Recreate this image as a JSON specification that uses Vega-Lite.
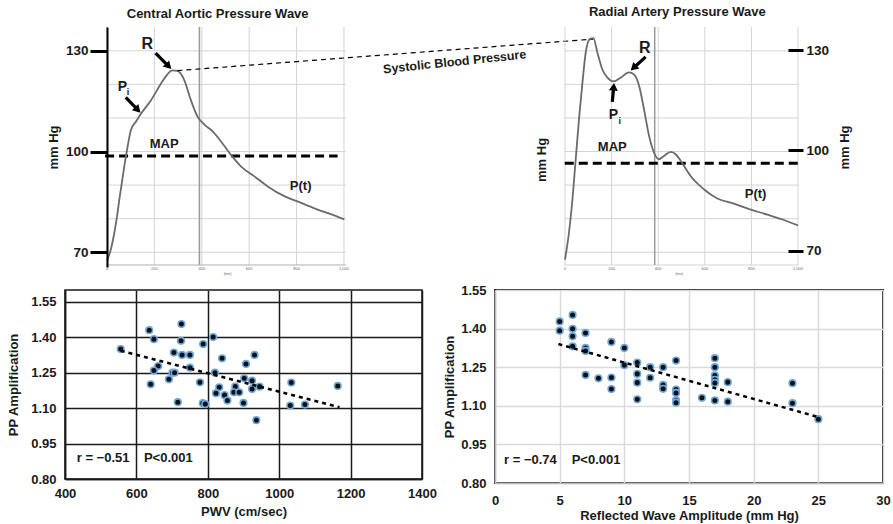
{
  "$schema": "https://vega.github.io/schema/vega-lite/v6.json",
  "padding": {"left": 6, "top": 5, "right": 5, "bottom": 4},
  "config": {
    "font": "Liberation Sans",
    "mark": {"color": "#1a1a1a"},
    "axis": {"labelFont": "Liberation Sans", "titleFont": "Liberation Sans", "labelFontWeight": "bold", "titleFontWeight": "bold", "labelFontSize": 13, "titleFontSize": 13, "labelColor": "#1a1a1a", "titleColor": "#1a1a1a", "tickSize": 0, "labelOverlap": false, "tickCount": 20},
    "text": {"font": "Liberation Sans", "fontWeight": "bold", "color": "#1a1a1a", "align": "center", "baseline": "middle"}
  },
  "datasets": {
    "aortic": [
      {"t": 0, "p": 67.5}, {"t": 15, "p": 70.5}, {"t": 31, "p": 75.8}, {"t": 42, "p": 80.5}, {"t": 52, "p": 85.7}, {"t": 63, "p": 90.8}, {"t": 73, "p": 95.6}, {"t": 87, "p": 101.5}, {"t": 101, "p": 106.4}, {"t": 122, "p": 108.9}, {"t": 150, "p": 111.9}, {"t": 186, "p": 115.3}, {"t": 228, "p": 120.3}, {"t": 255, "p": 123.0}, {"t": 275, "p": 124.2}, {"t": 298, "p": 124.0}, {"t": 326, "p": 121.3}, {"t": 354, "p": 115.3}, {"t": 382, "p": 110.4}, {"t": 411, "p": 108.0}, {"t": 446, "p": 106.0}, {"t": 481, "p": 103.0}, {"t": 523, "p": 99.0}, {"t": 565, "p": 95.6}, {"t": 622, "p": 92.6}, {"t": 678, "p": 89.6}, {"t": 748, "p": 86.7}, {"t": 819, "p": 84.7}, {"t": 889, "p": 82.7}, {"t": 959, "p": 81.0}, {"t": 1001, "p": 79.8}
    ],
    "radial": [
      {"t": 0, "p": 67.8}, {"t": 17, "p": 75.8}, {"t": 32, "p": 85.7}, {"t": 46, "p": 97.7}, {"t": 60, "p": 109.6}, {"t": 75, "p": 120.6}, {"t": 89, "p": 129.5}, {"t": 106, "p": 133.5}, {"t": 122, "p": 133.8}, {"t": 139, "p": 129.5}, {"t": 160, "p": 124.5}, {"t": 182, "p": 122.0}, {"t": 208, "p": 120.9}, {"t": 239, "p": 122.0}, {"t": 275, "p": 123.6}, {"t": 296, "p": 123.0}, {"t": 318, "p": 119.6}, {"t": 339, "p": 112.6}, {"t": 361, "p": 104.6}, {"t": 382, "p": 99.7}, {"t": 403, "p": 97.7}, {"t": 425, "p": 98.7}, {"t": 454, "p": 99.9}, {"t": 475, "p": 99.2}, {"t": 497, "p": 97.2}, {"t": 539, "p": 92.7}, {"t": 597, "p": 88.7}, {"t": 654, "p": 86.0}, {"t": 725, "p": 84.5}, {"t": 797, "p": 82.7}, {"t": 869, "p": 81.2}, {"t": 940, "p": 79.6}, {"t": 1000, "p": 78.0}
    ],
    "pwv": [
      {"pwv": 556, "ppa": 1.350}, {"pwv": 636, "ppa": 1.430}, {"pwv": 649, "ppa": 1.392}, {"pwv": 726, "ppa": 1.456}, {"pwv": 725, "ppa": 1.385}, {"pwv": 787, "ppa": 1.371}, {"pwv": 815, "ppa": 1.401}, {"pwv": 705, "ppa": 1.335}, {"pwv": 728, "ppa": 1.325}, {"pwv": 750, "ppa": 1.325}, {"pwv": 840, "ppa": 1.311}, {"pwv": 907, "ppa": 1.287}, {"pwv": 931, "ppa": 1.325}, {"pwv": 661, "ppa": 1.278}, {"pwv": 649, "ppa": 1.259}, {"pwv": 701, "ppa": 1.250}, {"pwv": 707, "ppa": 1.250}, {"pwv": 750, "ppa": 1.271}, {"pwv": 820, "ppa": 1.250}, {"pwv": 691, "ppa": 1.222}, {"pwv": 640, "ppa": 1.201}, {"pwv": 778, "ppa": 1.209}, {"pwv": 832, "ppa": 1.188}, {"pwv": 877, "ppa": 1.191}, {"pwv": 902, "ppa": 1.226}, {"pwv": 924, "ppa": 1.216}, {"pwv": 924, "ppa": 1.181}, {"pwv": 945, "ppa": 1.191}, {"pwv": 823, "ppa": 1.163}, {"pwv": 847, "ppa": 1.155}, {"pwv": 873, "ppa": 1.167}, {"pwv": 888, "ppa": 1.167}, {"pwv": 855, "ppa": 1.132}, {"pwv": 716, "ppa": 1.125}, {"pwv": 786, "ppa": 1.121}, {"pwv": 793, "ppa": 1.117}, {"pwv": 900, "ppa": 1.122}, {"pwv": 1034, "ppa": 1.208}, {"pwv": 1031, "ppa": 1.111}, {"pwv": 1072, "ppa": 1.115}, {"pwv": 1164, "ppa": 1.194}, {"pwv": 936, "ppa": 1.049}
    ],
    "rwa": [
      {"rwa": 5, "ppa": 1.428}, {"rwa": 5, "ppa": 1.392}, {"rwa": 6, "ppa": 1.453}, {"rwa": 6, "ppa": 1.399}, {"rwa": 6, "ppa": 1.370}, {"rwa": 6, "ppa": 1.331}, {"rwa": 7, "ppa": 1.383}, {"rwa": 7, "ppa": 1.325}, {"rwa": 7, "ppa": 1.313}, {"rwa": 7, "ppa": 1.220}, {"rwa": 8, "ppa": 1.207}, {"rwa": 9, "ppa": 1.348}, {"rwa": 9, "ppa": 1.210}, {"rwa": 9, "ppa": 1.165}, {"rwa": 10, "ppa": 1.325}, {"rwa": 10, "ppa": 1.258}, {"rwa": 11, "ppa": 1.268}, {"rwa": 11, "ppa": 1.224}, {"rwa": 11, "ppa": 1.190}, {"rwa": 11, "ppa": 1.125}, {"rwa": 12, "ppa": 1.250}, {"rwa": 12, "ppa": 1.209}, {"rwa": 13, "ppa": 1.250}, {"rwa": 13, "ppa": 1.181}, {"rwa": 13, "ppa": 1.166}, {"rwa": 14, "ppa": 1.276}, {"rwa": 14, "ppa": 1.163}, {"rwa": 14, "ppa": 1.150}, {"rwa": 14, "ppa": 1.121}, {"rwa": 14, "ppa": 1.112}, {"rwa": 16, "ppa": 1.131}, {"rwa": 17, "ppa": 1.285}, {"rwa": 17, "ppa": 1.250}, {"rwa": 17, "ppa": 1.218}, {"rwa": 17, "ppa": 1.201}, {"rwa": 17, "ppa": 1.189}, {"rwa": 17, "ppa": 1.121}, {"rwa": 18, "ppa": 1.192}, {"rwa": 18, "ppa": 1.116}, {"rwa": 23, "ppa": 1.188}, {"rwa": 23, "ppa": 1.110}, {"rwa": 25, "ppa": 1.048}
    ]
  },
  "vconcat": [
    {
      "width": 723,
      "height": 240,
      "view": {"stroke": null},
      "resolve": {"scale": {"x": "independent", "y": "independent"}, "axis": {"x": "independent", "y": "independent"}},
      "layer": [
        {
          "data": {"values": [{"p": 70}, {"p": 80}, {"p": 90}, {"p": 100}, {"p": 110}, {"p": 120}, {"p": 130}]},
          "mark": {"type": "rule", "color": "#d4d4d4", "strokeWidth": 1},
          "encoding": {
            "y": {"field": "p", "type": "quantitative", "scale": {"domain": [65.6, 137.1], "nice": false, "zero": false},
              "axis": {"orient": "left", "offset": -42, "zindex": 1, "values": [70, 100, 130], "tickSize": 17, "tickWidth": 3, "tickColor": "black", "domainColor": "black", "domainWidth": 2, "labelPadding": 2, "labelFontSize": 13.5, "title": "mm Hg", "titlePadding": 5, "grid": false}},
            "x": {"datum": -5, "type": "quantitative", "scale": {"domain": [-177.2, 2873.4], "nice": false, "zero": false}, "axis": null},
            "x2": {"datum": 1008}
          }
        },
        {
          "data": {"values": [{"t": 0}, {"t": 200}, {"t": 400}, {"t": 600}, {"t": 800}, {"t": 1000}]},
          "mark": {"type": "rule", "color": "#d4d4d4", "strokeWidth": 1},
          "encoding": {
            "x": {"field": "t", "type": "quantitative", "scale": {"domain": [-177.2, 2873.4], "nice": false, "zero": false}, "axis": null},
            "y": {"datum": 66.2, "type": "quantitative", "scale": {"domain": [65.6, 137.1], "nice": false, "zero": false}, "axis": null},
            "y2": {"datum": 137.1}
          }
        },
        {
          "data": {"values": [{"t": 390}]},
          "mark": {"type": "rule", "color": "#9a9a9a", "strokeWidth": 1.5},
          "encoding": {
            "x": {"field": "t", "type": "quantitative", "scale": {"domain": [-177.2, 2873.4], "nice": false, "zero": false}, "axis": null},
            "y": {"datum": 66.2, "type": "quantitative", "scale": {"domain": [65.6, 137.1], "nice": false, "zero": false}, "axis": null},
            "y2": {"datum": 137.1}
          }
        },
        {
          "data": {"values": [{"p": 66.2}]},
          "mark": {"type": "rule", "color": "#b0b0b0", "strokeWidth": 1},
          "encoding": {
            "y": {"field": "p", "type": "quantitative", "scale": {"domain": [65.6, 137.1], "nice": false, "zero": false}, "axis": null},
            "x": {"datum": -5, "type": "quantitative", "scale": {"domain": [-177.2, 2873.4], "nice": false, "zero": false}, "axis": null},
            "x2": {"datum": 1008}
          }
        },
        {
          "data": {"values": [{"t0": -8, "t1": 973, "p": 98.7}]},
          "mark": {"type": "rule", "color": "black", "strokeWidth": 3, "strokeDash": [9, 5]},
          "encoding": {
            "x": {"field": "t0", "type": "quantitative", "scale": {"domain": [-177.2, 2873.4], "nice": false, "zero": false}, "axis": null},
            "x2": {"field": "t1"},
            "y": {"field": "p", "type": "quantitative", "scale": {"domain": [65.6, 137.1], "nice": false, "zero": false}, "axis": null}
          }
        },
        {
          "data": {"name": "aortic"},
          "mark": {"type": "line", "color": "#6b6b6b", "strokeWidth": 1.8, "interpolate": "monotone"},
          "encoding": {
            "x": {"field": "t", "type": "quantitative", "scale": {"domain": [-177.2, 2873.4], "nice": false, "zero": false}, "axis": null},
            "y": {"field": "p", "type": "quantitative", "scale": {"domain": [65.6, 137.1], "nice": false, "zero": false}, "axis": null}
          }
        },
        {
          "data": {"values": [{"t0": 297, "p0": 124.1, "t1": 2052, "p1": 133.5}]},
          "mark": {"type": "rule", "color": "black", "strokeWidth": 1.2, "strokeDash": [5, 4]},
          "encoding": {
            "x": {"field": "t0", "type": "quantitative", "scale": {"domain": [-177.2, 2873.4], "nice": false, "zero": false}, "axis": null},
            "x2": {"field": "t1"},
            "y": {"field": "p0", "type": "quantitative", "scale": {"domain": [65.6, 137.1], "nice": false, "zero": false}, "axis": null},
            "y2": {"field": "p1"}
          }
        },
        {
          "data": {"values": [{"t0": 205, "p0": 129.3, "t1": 260, "p1": 125.4}, {"t0": 79, "p0": 116.1, "t1": 130, "p1": 112.4}]},
          "mark": {"type": "rule", "color": "black", "strokeWidth": 3.2},
          "encoding": {
            "x": {"field": "t0", "type": "quantitative", "scale": {"domain": [-177.2, 2873.4], "nice": false, "zero": false}, "axis": null},
            "x2": {"field": "t1"},
            "y": {"field": "p0", "type": "quantitative", "scale": {"domain": [65.6, 137.1], "nice": false, "zero": false}, "axis": null},
            "y2": {"field": "p1"}
          }
        },
        {
          "data": {"values": [{"t": 260, "p": 125.4}, {"t": 130, "p": 112.4}]},
          "mark": {"type": "point", "shape": "triangle-up", "filled": true, "color": "black", "size": 80, "angle": 136, "opacity": 1},
          "encoding": {
            "x": {"field": "t", "type": "quantitative", "scale": {"domain": [-177.2, 2873.4], "nice": false, "zero": false}, "axis": null},
            "y": {"field": "p", "type": "quantitative", "scale": {"domain": [65.6, 137.1], "nice": false, "zero": false}, "axis": null}
          }
        },
        {
          "data": {"values": [{"t": 467, "p": 141.0, "label": "Central Aortic Pressure Wave"}, {"t": 241, "p": 102.1, "label": "MAP"}, {"t": 817, "p": 89.8, "label": "P(t)"}]},
          "mark": {"type": "text", "fontSize": 13, "color": "#1a1a1a"},
          "encoding": {
            "x": {"field": "t", "type": "quantitative", "scale": {"domain": [-177.2, 2873.4], "nice": false, "zero": false}, "axis": null},
            "y": {"field": "p", "type": "quantitative", "scale": {"domain": [65.6, 137.1], "nice": false, "zero": false}, "axis": null},
            "text": {"field": "label"}
          }
        },
        {
          "data": {"values": [{"t": 170, "p": 131.9, "label": "R"}]},
          "mark": {"type": "text", "fontSize": 16, "color": "#1a1a1a"},
          "encoding": {
            "x": {"field": "t", "type": "quantitative", "scale": {"domain": [-177.2, 2873.4], "nice": false, "zero": false}, "axis": null},
            "y": {"field": "p", "type": "quantitative", "scale": {"domain": [65.6, 137.1], "nice": false, "zero": false}, "axis": null},
            "text": {"field": "label"}
          }
        },
        {
          "data": {"values": [{"t": 65, "p": 119.3, "label": "P"}]},
          "mark": {"type": "text", "fontSize": 14, "color": "#1a1a1a"},
          "encoding": {
            "x": {"field": "t", "type": "quantitative", "scale": {"domain": [-177.2, 2873.4], "nice": false, "zero": false}, "axis": null},
            "y": {"field": "p", "type": "quantitative", "scale": {"domain": [65.6, 137.1], "nice": false, "zero": false}, "axis": null},
            "text": {"field": "label"}
          }
        },
        {
          "data": {"values": [{"t": 89, "p": 117.8, "label": "i"}]},
          "mark": {"type": "text", "fontSize": 9, "color": "#1a1a1a"},
          "encoding": {
            "x": {"field": "t", "type": "quantitative", "scale": {"domain": [-177.2, 2873.4], "nice": false, "zero": false}, "axis": null},
            "y": {"field": "p", "type": "quantitative", "scale": {"domain": [65.6, 137.1], "nice": false, "zero": false}, "axis": null},
            "text": {"field": "label"}
          }
        },
        {
          "data": {"values": [{"t": 1467, "p": 126.7, "label": "Systolic Blood Pressure"}]},
          "mark": {"type": "text", "fontSize": 12.5, "angle": 354, "color": "#1a1a1a"},
          "encoding": {
            "x": {"field": "t", "type": "quantitative", "scale": {"domain": [-177.2, 2873.4], "nice": false, "zero": false}, "axis": null},
            "y": {"field": "p", "type": "quantitative", "scale": {"domain": [65.6, 137.1], "nice": false, "zero": false}, "axis": null},
            "text": {"field": "label"}
          }
        },
        {
          "data": {"values": [{"t": 0, "p": 65.1, "label": "0"}, {"t": 200, "p": 65.1, "label": "200"}, {"t": 400, "p": 65.1, "label": "400"}, {"t": 600, "p": 65.1, "label": "600"}, {"t": 800, "p": 65.1, "label": "800"}, {"t": 1000, "p": 65.1, "label": "1,000"}, {"t": 509, "p": 63.4, "label": "(ms)"}]},
          "mark": {"type": "text", "fontSize": 4, "fontWeight": "normal", "color": "#666"},
          "encoding": {
            "x": {"field": "t", "type": "quantitative", "scale": {"domain": [-177.2, 2873.4], "nice": false, "zero": false}, "axis": null},
            "y": {"field": "p", "type": "quantitative", "scale": {"domain": [65.6, 137.1], "nice": false, "zero": false}, "axis": null},
            "text": {"field": "label"}
          }
        },
        {
          "data": {"values": [{"p": 70}, {"p": 80}, {"p": 90}, {"p": 100}, {"p": 110}, {"p": 120}, {"p": 130}, {"p": 66.2}]},
          "mark": {"type": "rule", "color": "#d4d4d4", "strokeWidth": 1},
          "encoding": {
            "y": {"field": "p", "type": "quantitative", "scale": {"domain": [65.6, 137.1], "nice": false, "zero": false}, "axis": null},
            "x": {"datum": -3, "type": "quantitative", "scale": {"domain": [-2145.9, 957.1], "nice": false, "zero": false}, "axis": null},
            "x2": {"datum": 1003}
          }
        },
        {
          "data": {"values": [{"t": 0}, {"t": 200}, {"t": 400}, {"t": 600}, {"t": 800}, {"t": 1000}]},
          "mark": {"type": "rule", "color": "#d4d4d4", "strokeWidth": 1},
          "encoding": {
            "x": {"field": "t", "type": "quantitative", "scale": {"domain": [-2145.9, 957.1], "nice": false, "zero": false}, "axis": null},
            "y": {"datum": 66.2, "type": "quantitative", "scale": {"domain": [65.6, 137.1], "nice": false, "zero": false}, "axis": null},
            "y2": {"datum": 137.1}
          }
        },
        {
          "data": {"values": [{"t": 385}]},
          "mark": {"type": "rule", "color": "#9a9a9a", "strokeWidth": 1.5},
          "encoding": {
            "x": {"field": "t", "type": "quantitative", "scale": {"domain": [-2145.9, 957.1], "nice": false, "zero": false}, "axis": null},
            "y": {"datum": 66.2, "type": "quantitative", "scale": {"domain": [65.6, 137.1], "nice": false, "zero": false}, "axis": null},
            "y2": {"datum": 137.1}
          }
        },
        {
          "data": {"values": [{"t0": -1, "t1": 1017, "p": 96.5}]},
          "mark": {"type": "rule", "color": "black", "strokeWidth": 3, "strokeDash": [9, 5]},
          "encoding": {
            "x": {"field": "t0", "type": "quantitative", "scale": {"domain": [-2145.9, 957.1], "nice": false, "zero": false}, "axis": null},
            "x2": {"field": "t1"},
            "y": {"field": "p", "type": "quantitative", "scale": {"domain": [65.6, 137.1], "nice": false, "zero": false}, "axis": null}
          }
        },
        {
          "data": {"name": "radial"},
          "mark": {"type": "line", "color": "#6b6b6b", "strokeWidth": 1.8, "interpolate": "monotone"},
          "encoding": {
            "x": {"field": "t", "type": "quantitative", "scale": {"domain": [-2145.9, 957.1], "nice": false, "zero": false}, "axis": null},
            "y": {"field": "p", "type": "quantitative", "scale": {"domain": [65.6, 137.1], "nice": false, "zero": false}, "axis": null}
          }
        },
        {
          "data": {"values": [{"t0": 346, "p0": 128.2, "t1": 294, "p1": 124.9}, {"t0": 203, "p0": 114.8, "t1": 209, "p1": 119.3}]},
          "mark": {"type": "rule", "color": "black", "strokeWidth": 3.2},
          "encoding": {
            "x": {"field": "t0", "type": "quantitative", "scale": {"domain": [-2145.9, 957.1], "nice": false, "zero": false}, "axis": null},
            "x2": {"field": "t1"},
            "y": {"field": "p0", "type": "quantitative", "scale": {"domain": [65.6, 137.1], "nice": false, "zero": false}, "axis": null},
            "y2": {"field": "p1"}
          }
        },
        {
          "data": {"values": [{"t": 294, "p": 124.9}]},
          "mark": {"type": "point", "shape": "triangle-up", "filled": true, "color": "black", "size": 80, "angle": 227, "opacity": 1},
          "encoding": {
            "x": {"field": "t", "type": "quantitative", "scale": {"domain": [-2145.9, 957.1], "nice": false, "zero": false}, "axis": null},
            "y": {"field": "p", "type": "quantitative", "scale": {"domain": [65.6, 137.1], "nice": false, "zero": false}, "axis": null}
          }
        },
        {
          "data": {"values": [{"t": 209, "p": 119.3}]},
          "mark": {"type": "point", "shape": "triangle-up", "filled": true, "color": "black", "size": 80, "angle": 5, "opacity": 1},
          "encoding": {
            "x": {"field": "t", "type": "quantitative", "scale": {"domain": [-2145.9, 957.1], "nice": false, "zero": false}, "axis": null},
            "y": {"field": "p", "type": "quantitative", "scale": {"domain": [65.6, 137.1], "nice": false, "zero": false}, "axis": null}
          }
        },
        {
          "data": {"values": [{"t": 482, "p": 141.6, "label": "Radial Artery Pressure Wave"}, {"t": 203, "p": 101.4, "label": "MAP"}, {"t": 818, "p": 87.3, "label": "P(t)"}]},
          "mark": {"type": "text", "fontSize": 13, "color": "#1a1a1a"},
          "encoding": {
            "x": {"field": "t", "type": "quantitative", "scale": {"domain": [-2145.9, 957.1], "nice": false, "zero": false}, "axis": null},
            "y": {"field": "p", "type": "quantitative", "scale": {"domain": [65.6, 137.1], "nice": false, "zero": false}, "axis": null},
            "text": {"field": "label"}
          }
        },
        {
          "data": {"values": [{"t": 342, "p": 130.8, "label": "R"}]},
          "mark": {"type": "text", "fontSize": 16, "color": "#1a1a1a"},
          "encoding": {
            "x": {"field": "t", "type": "quantitative", "scale": {"domain": [-2145.9, 957.1], "nice": false, "zero": false}, "axis": null},
            "y": {"field": "p", "type": "quantitative", "scale": {"domain": [65.6, 137.1], "nice": false, "zero": false}, "axis": null},
            "text": {"field": "label"}
          }
        },
        {
          "data": {"values": [{"t": 208, "p": 110.9, "label": "P"}]},
          "mark": {"type": "text", "fontSize": 14, "color": "#1a1a1a"},
          "encoding": {
            "x": {"field": "t", "type": "quantitative", "scale": {"domain": [-2145.9, 957.1], "nice": false, "zero": false}, "axis": null},
            "y": {"field": "p", "type": "quantitative", "scale": {"domain": [65.6, 137.1], "nice": false, "zero": false}, "axis": null},
            "text": {"field": "label"}
          }
        },
        {
          "data": {"values": [{"t": 235, "p": 109.2, "label": "i"}]},
          "mark": {"type": "text", "fontSize": 9, "color": "#1a1a1a"},
          "encoding": {
            "x": {"field": "t", "type": "quantitative", "scale": {"domain": [-2145.9, 957.1], "nice": false, "zero": false}, "axis": null},
            "y": {"field": "p", "type": "quantitative", "scale": {"domain": [65.6, 137.1], "nice": false, "zero": false}, "axis": null},
            "text": {"field": "label"}
          }
        },
        {
          "data": {"values": [{"t": -97, "p": 97.5, "label": "mm Hg"}]},
          "mark": {"type": "text", "fontSize": 13, "angle": 270, "color": "#1a1a1a"},
          "encoding": {
            "x": {"field": "t", "type": "quantitative", "scale": {"domain": [-2145.9, 957.1], "nice": false, "zero": false}, "axis": null},
            "y": {"field": "p", "type": "quantitative", "scale": {"domain": [65.6, 137.1], "nice": false, "zero": false}, "axis": null},
            "text": {"field": "label"}
          }
        },
        {
          "data": {"values": [{"t": 0, "p": 65.0, "label": "0"}, {"t": 200, "p": 65.0, "label": "200"}, {"t": 400, "p": 65.0, "label": "400"}, {"t": 600, "p": 65.0, "label": "600"}, {"t": 800, "p": 65.0, "label": "800"}, {"t": 1000, "p": 65.0, "label": "1,000"}, {"t": 490, "p": 63.4, "label": "(ms)"}]},
          "mark": {"type": "text", "fontSize": 4, "fontWeight": "normal", "color": "#666"},
          "encoding": {
            "x": {"field": "t", "type": "quantitative", "scale": {"domain": [-2145.9, 957.1], "nice": false, "zero": false}, "axis": null},
            "y": {"field": "p", "type": "quantitative", "scale": {"domain": [65.6, 137.1], "nice": false, "zero": false}, "axis": null},
            "text": {"field": "label"}
          }
        },
        {
          "data": {"values": [{"p": 70}, {"p": 100}, {"p": 130}]},
          "mark": {"type": "point", "opacity": 0},
          "encoding": {
            "x": {"datum": 900, "type": "quantitative", "scale": {"domain": [-2145.9, 957.1], "nice": false, "zero": false}, "axis": null},
            "y": {"field": "p", "type": "quantitative", "scale": {"domain": [65.1, 136.9], "nice": false, "zero": false},
              "axis": {"orient": "right", "zindex": 1, "values": [70, 100, 130], "tickSize": 15, "tickWidth": 3, "tickColor": "black", "domain": false, "labelPadding": 3, "labelFontSize": 13.5, "title": "mm Hg", "titlePadding": 23, "titleAngle": 270, "grid": false}}
          }
        }
      ]
    },
    {
      "hconcat": [
        {
          "width": 357,
          "height": 189,
          "view": {"stroke": "#1a1a1a", "strokeWidth": 1.5},
          "layer": [
            {
              "data": {"name": "pwv"},
              "mark": {"type": "point", "filled": true, "fill": "#111111", "stroke": "#6fa8dc", "strokeWidth": 1.6, "size": 44, "opacity": 1},
              "encoding": {
                "x": {"field": "pwv", "type": "quantitative", "scale": {"domain": [400, 1400], "nice": false, "zero": false},
                  "axis": {"values": [400, 600, 800, 1000, 1200, 1400], "format": "d", "grid": true, "gridColor": "#1a1a1a", "gridWidth": 1.5, "domainColor": "#1a1a1a", "domainWidth": 1.5, "tickSize": 0, "labelPadding": 8, "labelFlush": false, "title": "PWV (cm/sec)", "titlePadding": 5}},
                "y": {"field": "ppa", "type": "quantitative", "scale": {"domain": [0.8, 1.6], "nice": false, "zero": false},
                  "axis": {"values": [0.8, 0.95, 1.1, 1.25, 1.4, 1.55], "tickCount": 20, "format": ".2f", "grid": true, "gridColor": "#1a1a1a", "gridWidth": 1.5, "domainColor": "#1a1a1a", "domainWidth": 1.5, "tickSize": 0, "labelPadding": 9, "title": "PP Amplification", "titlePadding": 10}}
              }
            },
            {
              "data": {"values": [{"pwv": 556, "ppa": 1.343}, {"pwv": 1169, "ppa": 1.104}]},
              "mark": {"type": "line", "color": "black", "strokeWidth": 2.5, "strokeDash": [4, 4]},
              "encoding": {
                "x": {"field": "pwv", "type": "quantitative"},
                "y": {"field": "ppa", "type": "quantitative"}
              }
            },
            {
              "data": {"values": [{"pwv": 432.8, "ppa": 0.891, "label": "r = −0.51"}, {"pwv": 621, "ppa": 0.891, "label": "P<0.001"}]},
              "mark": {"type": "text", "fontSize": 13, "align": "left", "color": "#1a1a1a"},
              "encoding": {
                "x": {"field": "pwv", "type": "quantitative"},
                "y": {"field": "ppa", "type": "quantitative"},
                "text": {"field": "label"}
              }
            }
          ]
        },
        {
          "width": 388,
          "height": 193,
          "view": {"stroke": "#1a1a1a", "strokeWidth": 2},
          "layer": [
            {
              "data": {"name": "rwa"},
              "mark": {"type": "point", "filled": true, "fill": "#111111", "stroke": "#6fa8dc", "strokeWidth": 1.6, "size": 44, "opacity": 1},
              "encoding": {
                "x": {"field": "rwa", "type": "quantitative", "scale": {"domain": [0, 30], "nice": false, "zero": false},
                  "axis": {"values": [0, 5, 10, 15, 20, 25, 30], "grid": true, "gridColor": "#dadada", "gridWidth": 1.5, "domainColor": "#bbbbbb", "domainWidth": 1.5, "tickSize": 0, "labelPadding": 11, "labelFlush": false, "title": "Reflected Wave Amplitude (mm Hg)", "titlePadding": 2}},
                "y": {"field": "ppa", "type": "quantitative", "scale": {"domain": [0.8, 1.55], "nice": false, "zero": false},
                  "axis": {"values": [0.8, 0.95, 1.1, 1.25, 1.4, 1.55], "tickCount": 20, "format": ".2f", "grid": true, "gridColor": "#dadada", "gridWidth": 1.5, "domainColor": "#bbbbbb", "domainWidth": 1.5, "tickSize": 0, "labelPadding": 9, "title": "PP Amplification", "titlePadding": 4}}
              }
            },
            {
              "data": {"values": [{"rwa": 4.9, "ppa": 1.340}, {"rwa": 25.0, "ppa": 1.056}]},
              "mark": {"type": "line", "color": "black", "strokeWidth": 2.5, "strokeDash": [4, 4]},
              "encoding": {
                "x": {"field": "rwa", "type": "quantitative"},
                "y": {"field": "ppa", "type": "quantitative"}
              }
            },
            {
              "data": {"values": [{"rwa": 0.7, "ppa": 0.891, "label": "r = −0.74"}, {"rwa": 5.93, "ppa": 0.891, "label": "P<0.001"}]},
              "mark": {"type": "text", "fontSize": 13, "align": "left", "color": "#1a1a1a"},
              "encoding": {
                "x": {"field": "rwa", "type": "quantitative"},
                "y": {"field": "ppa", "type": "quantitative"},
                "text": {"field": "label"}
              }
            }
          ]
        }
      ],
      "spacing": 4
    }
  ],
  "spacing": 6
}
